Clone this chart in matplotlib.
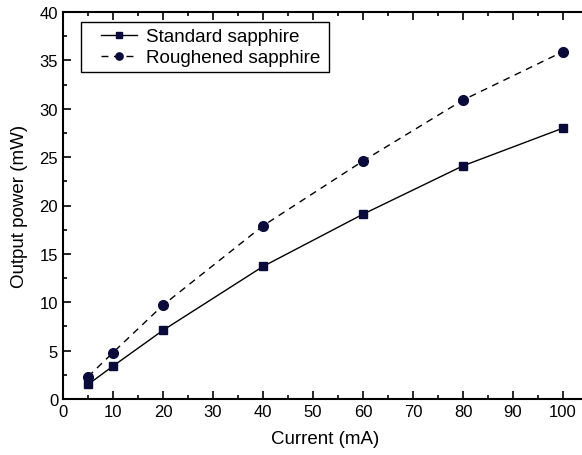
import matplotlib.pyplot as plt
from matplotlib.patches import Rectangle
from matplotlib.ticker import MultipleLocator

plt.rcParams['font.family'] = ['Liberation Sans', 'DejaVu Sans']

current = [5, 10, 20, 40, 60, 80, 100]
standard = [1.5, 3.4, 7.1, 13.7, 19.1, 24.1, 28.0]
roughened = [2.3, 4.8, 9.7, 17.9, 24.6, 30.9, 35.9]

mk_color = '#0b0b3b'

fig = plt.figure(figsize=(5.82, 4.56), dpi=100)
# right edge deliberately past the figure, as in the cropped original
ax = fig.add_axes([63 / 582, 56 / 456, 525 / 582, 387 / 456])

ax.plot(current, standard, color='black', linewidth=1, marker='s', markersize=6.3,
        markerfacecolor=mk_color, markeredgecolor=mk_color, label='Standard sapphire')
ax.plot(current, roughened, color='black', linewidth=1, linestyle=(0, (5, 4)), marker='o',
        markersize=7, markerfacecolor=mk_color, markeredgecolor=mk_color,
        label='Roughened sapphire')

ax.set_xlim(0, 105)
ax.set_ylim(0, 40)
ax.xaxis.set_major_locator(MultipleLocator(10))
ax.xaxis.set_minor_locator(MultipleLocator(5))
ax.yaxis.set_major_locator(MultipleLocator(5))
ax.yaxis.set_minor_locator(MultipleLocator(2.5))
ax.tick_params(which='both', direction='in', top=True, right=False, labelsize=12,
               width=1.2, colors='black')
ax.tick_params(which='major', length=6)
ax.tick_params(which='minor', length=3)
for s in ax.spines.values():
    s.set_linewidth(1.5)

ax.set_xlabel('Current (mA)', fontsize=13.5, labelpad=8)
ax.set_ylabel('Output power (mW)', fontsize=13.5, labelpad=8)

# legend without its own frame; a plain box is drawn around it instead
leg = ax.legend(loc='upper left', bbox_to_anchor=((101 - 63) / 525, (400 - 29) / 387),
                fontsize=13.6, frameon=False, handlelength=1.9, handletextpad=0.5,
                borderpad=0, borderaxespad=0, labelspacing=0.2, numpoints=1,
                markerscale=0.75)
ax.add_patch(Rectangle(((81 - 63) / 525, (400 - 73) / 387), 248 / 525, 50 / 387,
                       transform=ax.transAxes, fill=False, edgecolor='black',
                       linewidth=1, zorder=5))

fig.savefig('out.png', dpi=100)
